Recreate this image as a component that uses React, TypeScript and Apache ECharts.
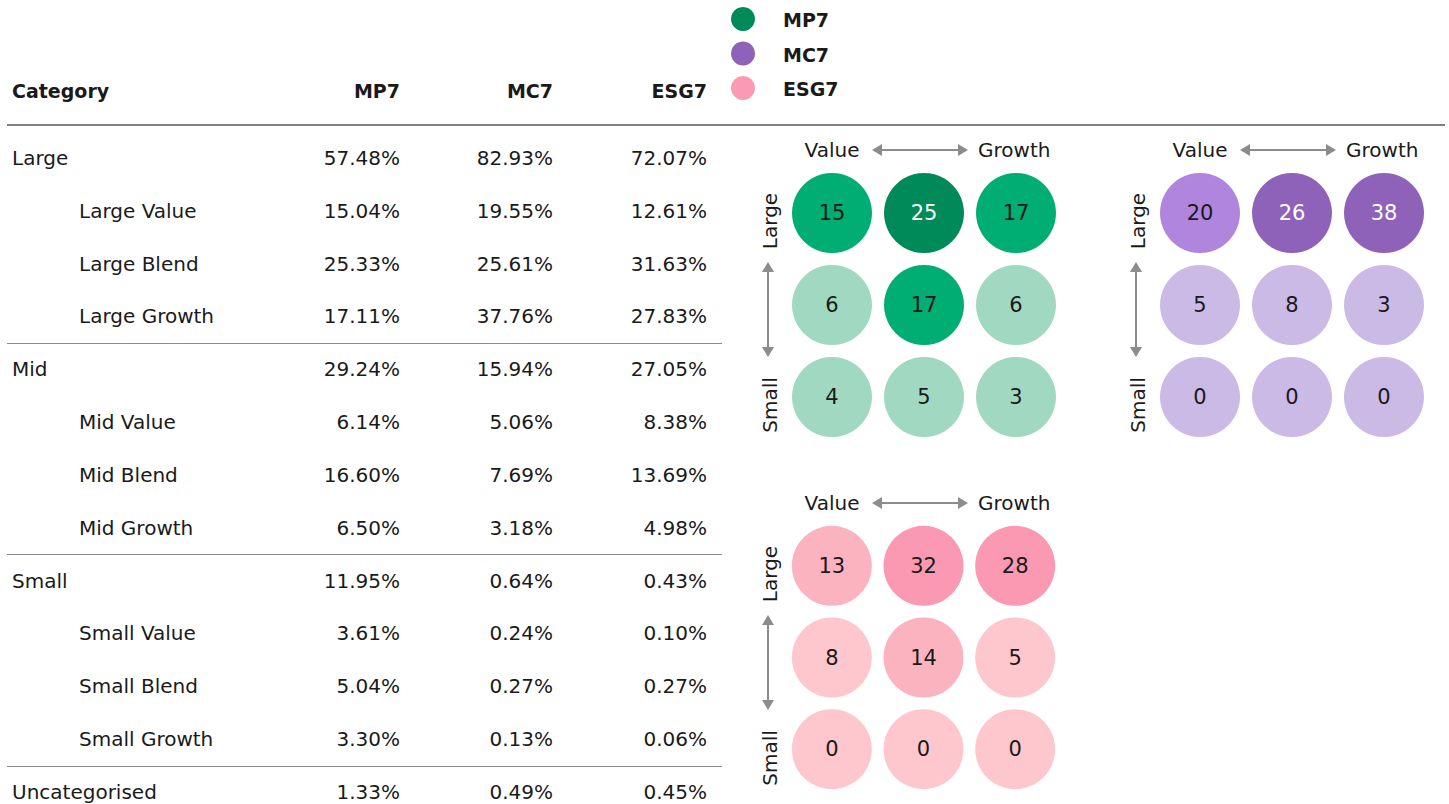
import React, { useEffect, useRef } from "react";
import * as echarts from "echarts";

// ---------- data ----------
const tableHeaders = ["Category", "MP7", "MC7", "ESG7"];
const tableCategories = [
  "Large", "Large Value", "Large Blend", "Large Growth",
  "Mid", "Mid Value", "Mid Blend", "Mid Growth",
  "Small", "Small Value", "Small Blend", "Small Growth",
  "Uncategorised",
];
const mp7Weights = [57.48, 15.04, 25.33, 17.11, 29.24, 6.14, 16.6, 6.5, 11.95, 3.61, 5.04, 3.3, 1.33];
const mc7Weights = [82.93, 19.55, 25.61, 37.76, 15.94, 5.06, 7.69, 3.18, 0.64, 0.24, 0.27, 0.13, 0.49];
const esg7Weights = [72.07, 12.61, 31.63, 27.83, 27.05, 8.38, 13.69, 4.98, 0.43, 0.1, 0.27, 0.06, 0.45];

const portfolios = ["MP7", "MC7", "ESG7"];
const styleCols = ["Value", "Blend", "Growth"];
const sizeRows = ["Large", "Mid", "Small"];
const mp7Counts = [[15, 25, 17], [6, 17, 6], [4, 5, 3]];
const mc7Counts = [[20, 26, 38], [5, 8, 3], [0, 0, 0]];
const esg7Counts = [[13, 32, 28], [8, 14, 5], [0, 0, 0]];

// ---------- styles ----------
const FONT = "DejaVu Sans";
const TXT = "#1a1a1a";
const ARROW = "#8c8c8c";
const legendColors = ["#008a5a", "#8f62b9", "#fb9ab3"];
const palettes = [
  { hi: 20, mid: 10, c: ["#008a5a", "#00ad72", "#a0d8c2"], dark: true },
  { hi: 25, mid: 10, c: ["#8f62b9", "#b085dd", "#cbb9e6"], dark: true },
  { hi: 20, mid: 10, c: ["#fb99b3", "#fcb3c0", "#fec7cd"], dark: false },
];
const boxes = [
  { left: 786, top: 167, size: 276 },
  { left: 1154, top: 167, size: 276 },
  { left: 786, top: 520, size: 275 },
];

function hArrow(x1: number, x2: number, y: number) {
  return [
    { type: "line", shape: { x1: x1 + 8, y1: y, x2: x2 - 8, y2: y }, style: { stroke: ARROW, lineWidth: 2 } },
    { type: "polygon", shape: { points: [[x1, y], [x1 + 10, y - 6], [x1 + 10, y + 6]] }, style: { fill: ARROW } },
    { type: "polygon", shape: { points: [[x2, y], [x2 - 10, y - 6], [x2 - 10, y + 6]] }, style: { fill: ARROW } },
  ];
}
function vArrow(x: number, y1: number, y2: number) {
  return [
    { type: "line", shape: { x1: x, y1: y1 + 8, x2: x, y2: y2 - 8 }, style: { stroke: ARROW, lineWidth: 2 } },
    { type: "polygon", shape: { points: [[x, y1], [x - 6, y1 + 10], [x + 6, y1 + 10]] }, style: { fill: ARROW } },
    { type: "polygon", shape: { points: [[x, y2], [x - 6, y2 - 10], [x + 6, y2 - 10]] }, style: { fill: ARROW } },
  ];
}
function txt(x: number, y: number, text: string, align: string, extra: any = {}) {
  return {
    type: "text",
    x,
    y,
    style: {
      text,
      fill: TXT,
      font: `${extra.bold ? "bold " : ""}${extra.size || 20}px "${FONT}"`,
      textAlign: align,
      textVerticalAlign: "middle",
    },
    rotation: extra.rotation || 0,
  };
}

export default function App() {
  const ref = useRef<HTMLDivElement>(null);
  useEffect(() => {
    document.body.style.margin = "0";
    if (!ref.current) return;
    const chart = echarts.init(ref.current, undefined, { renderer: "svg" });

    const colX = [12, 400, 553, 707];
    const rowY = (i: number) => 158 + i * 52.83;
    const g: any[] = [];
    // header
    tableHeaders.forEach((h, i) => g.push(txt(colX[i], 91, h, i === 0 ? "left" : "right", { bold: true, size: 19 })));
    g.push({ type: "line", shape: { x1: 7, y1: 125, x2: 1445, y2: 125 }, style: { stroke: "#808080", lineWidth: 2 } });
    const weightCols = [mp7Weights, mc7Weights, esg7Weights];
    tableCategories.forEach((c, i) => {
      const y = rowY(i);
      g.push(txt(c.includes(" ") ? 79 : 12, y, c, "left"));
      weightCols.forEach((w, j) => g.push(txt(colX[j + 1], y, w[i].toFixed(2) + "%", "right")));
    });
    [3, 7, 11].forEach((i) => {
      const y = Math.round(rowY(i) + 26.5) + 0.5;
      g.push({ type: "line", shape: { x1: 7, y1: y, x2: 722, y2: y }, style: { stroke: "#8a8a8a", lineWidth: 1 } });
    });
    // legend
    portfolios.forEach((p, i) => {
      const y = 19 + i * 34.5;
      g.push({ type: "circle", shape: { cx: 743, cy: y, r: 12 }, style: { fill: legendColors[i] } });
      g.push(txt(783, y + 1, p, "left", { bold: true, size: 19 }));
    });
    // style box decorations
    boxes.forEach((b) => {
      const ty = b.top - 17;
      g.push(txt(b.left + 46, ty, styleCols[0], "center"));
      g.push(...hArrow(b.left + 86, b.left + 182, ty));
      g.push(txt(b.left + 192, ty, styleCols[2], "left"));
      g.push(txt(b.left - 16, b.top + 54, sizeRows[0], "center", { rotation: Math.PI / 2 }));
      g.push(...vArrow(b.left - 18, b.top + 95, b.top + 190));
      g.push(txt(b.left - 16, b.top + 238, sizeRows[2], "center", { rotation: Math.PI / 2 }));
    });

    const counts = [mp7Counts, mc7Counts, esg7Counts];
    const shade = (pi: number, v: number) => {
      const p = palettes[pi];
      return v >= p.hi ? 0 : v >= p.mid ? 1 : 2;
    };

    chart.setOption({
      animation: false,
      grid: boxes.map((b) => ({ left: b.left, top: b.top, width: b.size, height: b.size })),
      xAxis: boxes.map((_, i) => ({
        type: "category", gridIndex: i, data: styleCols, show: false,
      })),
      yAxis: boxes.map((_, i) => ({
        type: "category", gridIndex: i, data: sizeRows, inverse: true, show: false,
      })),
      series: counts.map((m, pi) => ({
        type: "scatter",
        name: portfolios[pi],
        xAxisIndex: pi,
        yAxisIndex: pi,
        symbol: "circle",
        symbolSize: 80,
        data: m.flatMap((row, r) => row.map((v, c) => [c, r, v])),
        itemStyle: {
          opacity: 1,
          color: (p: any) => palettes[pi].c[shade(pi, p.value[2])],
        },
        label: {
          show: true,
          position: "inside",
          fontFamily: FONT,
          fontSize: 21,
          formatter: (p: any) => String(p.value[2]),
          rich: {},
          color: TXT,
        },
        labelLayout: undefined,
        emphasis: { disabled: true },
      })),
      graphic: g,
    });

    // label colour by shade (white on darkest of MP7/MC7)
    chart.setOption({
      series: counts.map((m, pi) => ({
        data: m.flatMap((row, r) =>
          row.map((v, c) => ({
            value: [c, r, v],
            label: { color: palettes[pi].dark && shade(pi, v) === 0 ? "#ffffff" : TXT },
          }))
        ),
      })),
    });

    return () => chart.dispose();
  }, []);
  return <div ref={ref} style={{ width: 1449, height: 804 }} />;
}
